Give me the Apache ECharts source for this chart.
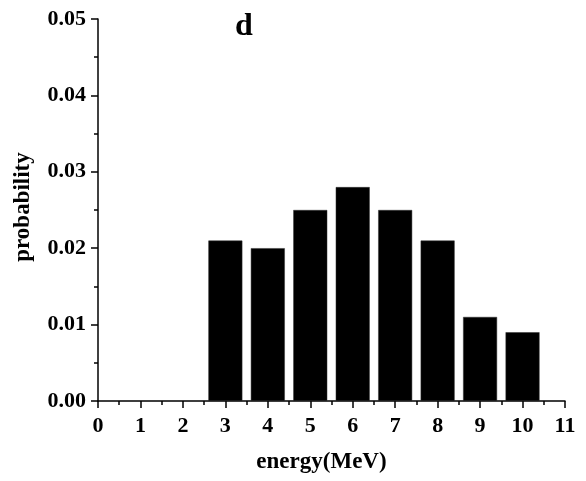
<!DOCTYPE html>
<html>
<head>
<meta charset="utf-8">
<script src="https://cdn.jsdelivr.net/npm/echarts@6/dist/echarts.min.js"></script>
<style>
html,body{margin:0;padding:0;background:#fff;}
#chart{width:586px;height:481px;}
</style>
</head>
<body>
<div id="chart"></div>
<script>
var energies = [3, 4, 5, 6, 7, 8, 9, 10];
var probabilities = [0.021, 0.020, 0.025, 0.028, 0.025, 0.021, 0.011, 0.009];
var titleText = 'd';
var xName = 'energy(MeV)';
var yName = 'probability';

var font = '"Liberation Serif", "Times New Roman", serif';
var chart = echarts.init(document.getElementById('chart'), null, {renderer: 'canvas'});
var data = energies.map(function (e, i) { return [e, probabilities[i]]; });

chart.setOption({
  animation: false,
  backgroundColor: '#fff',
  title: {
    text: titleText,
    left: 239, top: 6, textAlign: 'center',
    textStyle: {fontFamily: font, fontWeight: 'bold', fontSize: 32, color: '#000'}
  },
  grid: {left: 98, right: 21, top: 19, bottom: 80},
  xAxis: {
    type: 'value', min: 0, max: 11, interval: 1,
    name: xName, nameLocation: 'middle', nameGap: 50,
    nameTextStyle: {fontFamily: font, fontWeight: 'bold', fontSize: 23, color: '#000', padding: [0, 20, 0, 0]},
    axisLine: {show: true, onZero: false, lineStyle: {color: '#000', width: 1.5}},
    axisTick: {show: true, inside: false, length: 7, lineStyle: {color: '#000', width: 1.5}},
    minorTick: {show: true, splitNumber: 2, length: 4, lineStyle: {color: '#000', width: 1.5}},
    splitLine: {show: false},
    axisLabel: {fontFamily: font, fontWeight: 'bold', fontSize: 22, color: '#000', margin: 14}
  },
  yAxis: {
    type: 'value', min: 0, max: 0.05, interval: 0.01,
    name: yName, nameLocation: 'middle', nameGap: 63, nameRotate: 90,
    nameTextStyle: {fontFamily: font, fontWeight: 'bold', fontSize: 23, color: '#000', padding: [0, 0, 0, 6]},
    axisLine: {show: true, lineStyle: {color: '#000', width: 1.5}},
    axisTick: {show: true, inside: false, length: 7, lineStyle: {color: '#000', width: 1.5}},
    minorTick: {show: true, splitNumber: 2, length: 4, lineStyle: {color: '#000', width: 1.5}},
    splitLine: {show: false},
    axisLabel: {fontFamily: font, fontWeight: 'bold', fontSize: 22, color: '#000', margin: 12,
      formatter: function (v) { return v.toFixed(2); }}
  },
  series: [{
    type: 'bar',
    data: data,
    barWidth: '80%',
    itemStyle: {color: '#000', borderColor: '#333', borderWidth: 0.5}
  }]
});
</script>
</body>
</html>
